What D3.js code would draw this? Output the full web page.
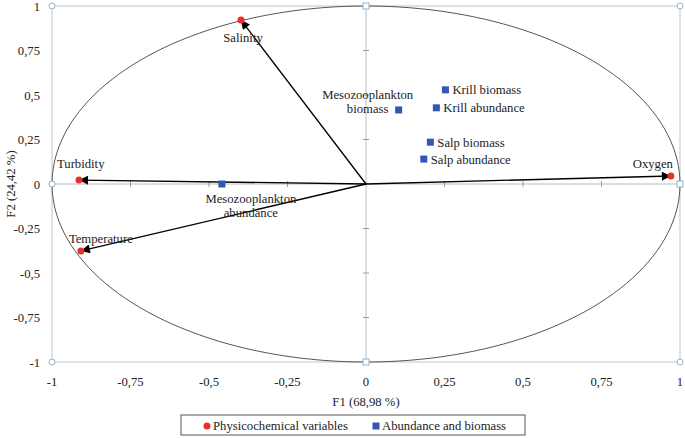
<!DOCTYPE html>
<html><head><meta charset="utf-8">
<script src="https://cdn.jsdelivr.net/npm/d3@7"></script>
<style>body{margin:0;background:#fff}svg{display:block}</style>
</head><body><svg id="c" width="685" height="438" font-family="'Liberation Serif', 'Times New Roman', Tinos, serif"></svg>
<script>
const tickValues = [-1,-0.75,-0.5,-0.25,0,0.25,0.5,0.75,1];
const tickLabels = ["-1","-0,75","-0,5","-0,25","0","0,25","0,5","0,75","1"];
const physNames = ["Salinity","Turbidity","Temperature","Oxygen"];
const physF1 = [-0.398,-0.914,-0.908,0.971];
const physF2 = [0.921,0.022,-0.376,0.045];
const bioNames = ["Mesozooplankton abundance","Mesozooplankton biomass","Krill biomass","Krill abundance","Salp biomass","Salp abundance"];
const bioF1 = [-0.459,0.104,0.253,0.224,0.205,0.184];
const bioF2 = [0.0,0.416,0.529,0.428,0.235,0.140];
const xTitle = "F1 (68,98 %)";
const yTitle = "F2 (24,42 %)";
const legendLabels = ["Physicochemical variables","Abundance and biomass"];

const svg = d3.select("#c");
const x = d3.scaleLinear().domain([-1,1]).range([52,680]);
const y = d3.scaleLinear().domain([-1,1]).range([362,6]);
const fs = "12.7px";
const tc = "#222";

svg.append("rect").attr("x",x(-1)).attr("y",y(1)).attr("width",x(1)-x(-1)).attr("height",y(-1)-y(1))
  .attr("fill","none").attr("stroke","#c4c4c4").attr("stroke-width",1);
svg.append("line").attr("x1",x(-1)).attr("x2",x(1)).attr("y1",y(0)).attr("y2",y(0)).attr("stroke","#bdbdbd");
svg.append("line").attr("x1",x(0)).attr("x2",x(0)).attr("y1",y(1)).attr("y2",y(-1)).attr("stroke","#bdbdbd");
tickValues.filter(v=>Math.abs(v)!==1 && v!==0).forEach(v=>{
  svg.append("line").attr("x1",x(v)).attr("x2",x(v)).attr("y1",y(0)-3).attr("y2",y(0)+3).attr("stroke","#999");
  svg.append("line").attr("x1",x(0)-3).attr("x2",x(0)+3).attr("y1",y(v)).attr("y2",y(v)).attr("stroke","#999");
});
const angles = d3.range(0,361,2).map(a=>a*Math.PI/180);
svg.append("path").datum(angles)
  .attr("d",d3.line().x(a=>x(Math.cos(a))).y(a=>y(Math.sin(a))).curve(d3.curveLinearClosed))
  .attr("fill","none").attr("stroke","#555").attr("stroke-width",1);

const circ = [[-1,1],[-1,0],[-1,-1],[1,1],[1,-1]];
const sq = [[0,1],[0,-1],[1,0]];
circ.forEach(p=>svg.append("circle").attr("cx",x(p[0])).attr("cy",y(p[1])).attr("r",3)
  .attr("fill","#fff").attr("stroke","#8db4d0").attr("stroke-width",1));
sq.forEach(p=>svg.append("rect").attr("x",x(p[0])-3).attr("y",y(p[1])-3).attr("width",6).attr("height",6)
  .attr("fill","#fff").attr("stroke","#8db4d0").attr("stroke-width",1));

function txt(px,py,anchor,s){return svg.append("text").attr("x",px).attr("y",py).attr("text-anchor",anchor)
  .attr("font-size",fs).attr("fill",tc).text(s);}
tickValues.forEach((v,i)=>{
  txt(x(v),386,"middle",tickLabels[i]);
  txt(40,y(v)+4.5,"end",tickLabels[i]);
});
txt(x(0),406,"middle",xTitle);
svg.append("text").attr("transform",`translate(15,${y(0)}) rotate(-90)`).attr("text-anchor","middle")
  .attr("font-size",fs).attr("fill",tc).text(yTitle);

svg.append("defs").append("marker").attr("id","ah").attr("viewBox","0 0 10 10").attr("refX",10).attr("refY",5)
  .attr("markerWidth",11).attr("markerHeight",9).attr("markerUnits","userSpaceOnUse").attr("orient","auto")
  .append("path").attr("d","M0,0L10,5L0,10z").attr("fill","#000");

physNames.forEach((n,i)=>{
  svg.append("line").attr("x1",x(0)).attr("y1",y(0)).attr("x2",x(physF1[i])).attr("y2",y(physF2[i]))
    .attr("stroke","#000").attr("stroke-width",1.3).attr("marker-end","url(#ah)");
});
physNames.forEach((n,i)=>{
  svg.append("circle").attr("cx",x(physF1[i])).attr("cy",y(physF2[i])).attr("r",3.5).attr("fill","#e8302a");
});
bioNames.forEach((n,i)=>{
  svg.append("rect").attr("x",x(bioF1[i])-3.5).attr("y",y(bioF2[i])-3.5).attr("width",7).attr("height",7).attr("fill","#3355b3");
});

function lab(lines, px, py, anchor){
  const t = svg.append("text").attr("x",px).attr("y",py).attr("text-anchor",anchor).attr("font-size",fs).attr("fill",tc);
  lines.forEach((l,k)=>t.append("tspan").attr("x",px).attr("dy",k?14:0).text(l));
}
lab([physNames[0]], x(physF1[0])+2, y(physF2[0])+22, "middle");
lab([physNames[1]], x(physF1[1])-22, y(physF2[1])-12, "start");
lab([physNames[2]], x(physF1[2])-12, y(physF2[2])-8, "start");
lab([physNames[3]], x(physF1[3])+2, y(physF2[3])-8, "end");
lab(["Mesozooplankton","abundance"], x(bioF1[0])+29, y(bioF2[0])+19, "middle");
lab(["Mesozooplankton","biomass"], x(bioF1[1])-31, y(bioF2[1])-11, "middle");
lab([bioNames[2]], x(bioF1[2])+7, y(bioF2[2])+4, "start");
lab([bioNames[3]], x(bioF1[3])+7, y(bioF2[3])+4, "start");
lab([bioNames[4]], x(bioF1[4])+7, y(bioF2[4])+5, "start");
lab([bioNames[5]], x(bioF1[5])+7, y(bioF2[5])+5, "start");

svg.append("rect").attr("x",181).attr("y",415).attr("width",344).attr("height",20).attr("fill","#fff").attr("stroke","#555").attr("stroke-width",1);
svg.append("circle").attr("cx",207).attr("cy",426).attr("r",3.5).attr("fill","#e8302a");
txt(213,430,"start",legendLabels[0]);
svg.append("rect").attr("x",372.5).attr("y",422.5).attr("width",7).attr("height",7).attr("fill","#3355b3");
txt(382,430,"start",legendLabels[1]);
</script></body></html>
